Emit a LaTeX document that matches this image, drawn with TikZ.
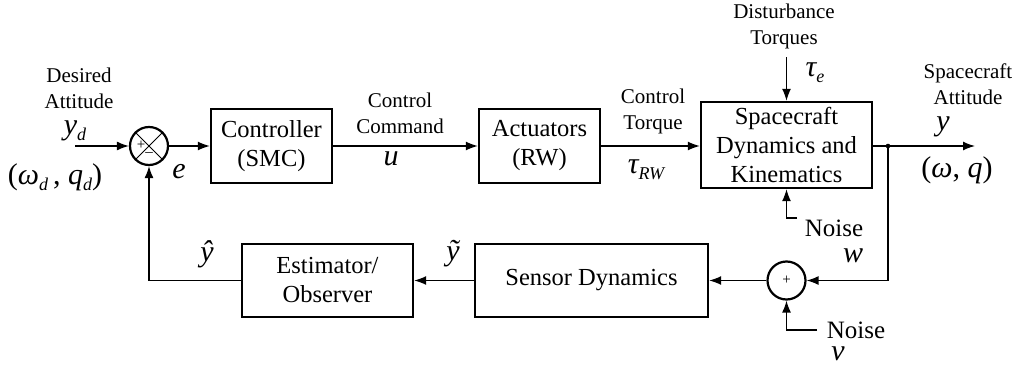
\documentclass[tikz,border=0pt]{standalone}
\usepackage{fontspec}
\setmainfont{Liberation Serif}
\usetikzlibrary{arrows.meta,calc}
\newcommand{\msb}[1]{\raisebox{-0.45ex}{\fontsize{18}{18}\selectfont\itshape #1}}
\begin{document}
\begin{tikzpicture}[x=1pt,y=-1pt,
  blk/.style={draw, line width=2.4pt, inner sep=0pt, align=center, font=\fontsize{24.5}{29}\selectfont},
  lbl/.style={align=center, inner sep=0pt, font=\fontsize{21}{26}\selectfont},
  nlbl/.style={inner sep=0pt, font=\fontsize{25}{26}\selectfont},
  mth/.style={inner sep=0pt, font=\fontsize{30}{32}\selectfont\itshape},
  mthu/.style={inner sep=0pt, font=\fontsize{30}{32}\selectfont},
  sig/.style={line width=1.3pt, -{Latex[length=12pt,width=9pt]}},
  junc/.style={draw, circle, line width=2.2pt, minimum size=38pt, inner sep=0pt},
  sgn/.style={inner sep=0pt, font=\fontsize{15}{15}\selectfont}]
\useasboundingbox (0,0) rectangle (1021,367);

% blocks
\node[blk, minimum width=121pt, minimum height=74pt] (ctrl) at (271.5,146) {Controller\\(SMC)};
\node[blk, minimum width=121pt, minimum height=74pt] (act) at (539.5,146) {Actuators\\(RW)};
\node[blk, minimum width=171pt, minimum height=86pt] (sc) at (786.5,145) {Spacecraft\\Dynamics and\\Kinematics};
\node[blk, minimum width=233pt, minimum height=73pt] (sens) at (591.5,280.5) {Sensor Dynamics};
\node[blk, minimum width=171pt, minimum height=73pt] (est) at (327.5,280.5) {Estimator/\\Observer};

% junctions
\node[junc] (sum) at (149,146) {};
\draw[line width=1pt] (sum.north west) -- (sum.south east) (sum.north east) -- (sum.south west);
\node[sgn] (sump) at ($(sum.center)+(-8,-1)$) {+};
\node[sgn] (summ) at ($(sum.center)+(0,9)$) {\textendash};
\node[junc] (plus) at (786.5,280.5) {};
\node[sgn] (plusp) at (plus.center) {+};

% coordinates
\coordinate (in) at (75,146);
\coordinate (out) at (975,146);
\coordinate (tap) at (888,146);
\coordinate (dist) at (786.5,57);
\coordinate (nw) at (797,218);
\coordinate (nv) at (817,330);

% connectors
\draw[sig] (in) -- (sum.west);
\draw[sig] (sum.east) -- (ctrl.west);
\draw[sig] (ctrl.east) -- (act.west);
\draw[sig] (act.east) -- (act.east -| sc.west);
\draw[sig] (sc.east |- tap) -- (out);
\fill (tap) circle (2.3pt);
\draw[sig] (tap) |- (plus.east);
\draw[sig] (plus.west) -- (sens.east);
\draw[sig] (sens.west) -- (est.east);
\draw[sig] (est.west) -| (sum.south);
\draw[sig] (dist) -- (sc.north);
\draw[sig] (nw) -- (nw -| sc.south) -- (sc.south);
\draw[sig] (nv) -- (nv -| plus.south) -- (plus.south);

% labels
\node[lbl] (l1) at (79,88) {Desired\\Attitude};
\node[mth] (l2) at (75,131) {y\msb{d}};
\node[mthu] (l3) at (55,177) {(\textit{ω}\msb{d}\,, \textit{q}\msb{d})};
\node[mth] (l4) at (179,172) {e};
\node[lbl] (l5) at (400,113) {Control\\Command};
\node[mth] (l6) at (391,159) {u};
\node[lbl] (l7) at (653,111) {Control\\Torque};
\node[mth] (l8) at (646,170) {τ\msb{RW}};
\node[lbl] (l9) at (784,26) {Disturbance\\Torques};
\node[mth] (l10) at (815,73) {τ\msb{e}};
\node[lbl] (l11) at (968,84) {Spacecraft\\Attitude};
\node[mth] (l12) at (943,127) {y};
\node[mthu] (l13) at (957,170) {(\textit{ω}, \textit{q})};
\node[nlbl] (l14) at (834,228) {Noise};
\node[mth] (l15) at (853,256) {w};
\node[nlbl] (l16) at (856,330) {Noise};
\node[mth] (l17) at (838,354) {v};
\node[mth] (l18) at (453,254) {ỹ};
\node[mth] (l19) at (207,254) {ŷ};
\end{tikzpicture}
\end{document}
